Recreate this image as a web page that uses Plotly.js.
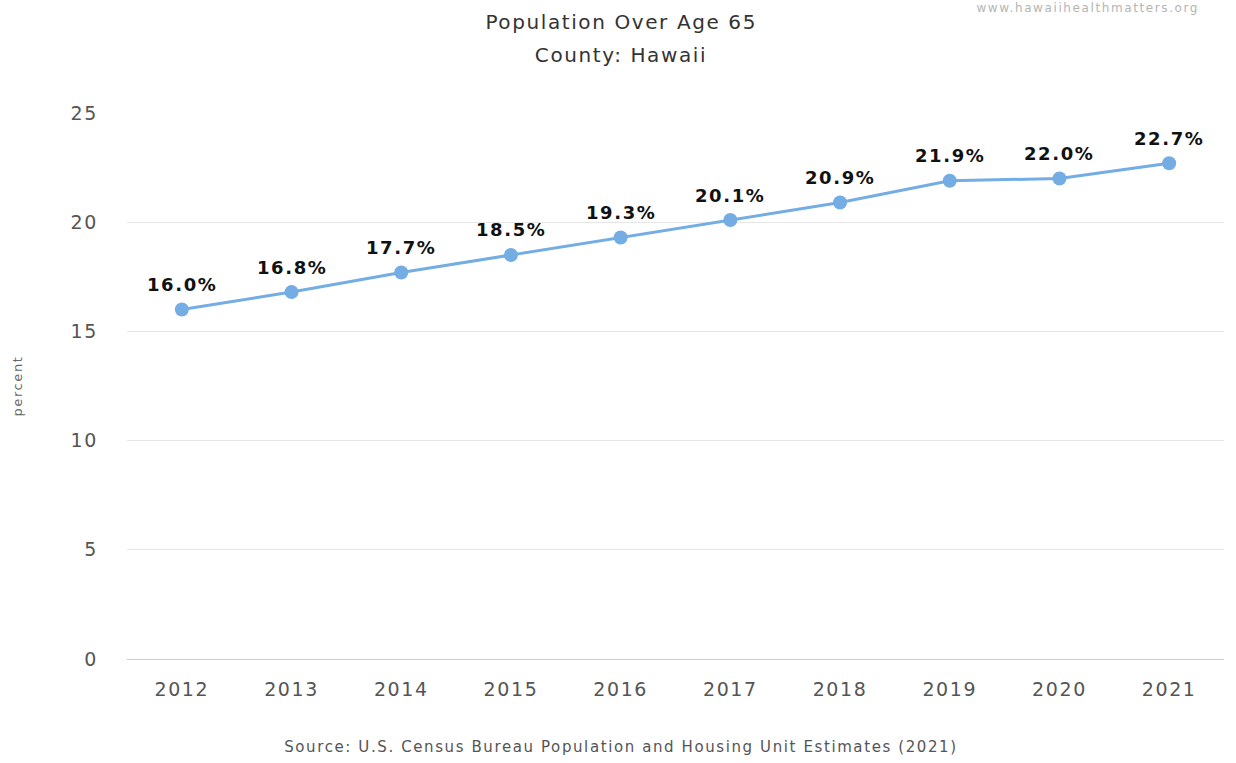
<!DOCTYPE html>
<html>
<head>
<meta charset="utf-8">
<script src="https://cdn.plot.ly/plotly-3.0.1.min.js"></script>
<style>
html,body{margin:0;padding:0;background:#fff}
#chart{width:1236px;height:763px}
#chart svg text{letter-spacing:1.6px}
</style>
</head>
<body>
<div id="chart"></div>
<script>
const years = ["2012","2013","2014","2015","2016","2017","2018","2019","2020","2021"];
const percent = [16.0, 16.8, 17.7, 18.5, 19.3, 20.1, 20.9, 21.9, 22.0, 22.7];
const yTicks = [0, 5, 10, 15, 20, 25];
const titleLines = ["Population Over Age 65", "County: Hawaii"];

const FONT = "DejaVu Sans, Verdana, sans-serif";

const trace = {
  x: years,
  y: percent,
  type: "scatter",
  mode: "lines+markers",
  line: {color: "#74ade4", width: 3},
  marker: {color: "#74ade4", size: 14},
  hoverinfo: "x+y",
  cliponaxis: false
};

// paper y from pixel row (plot area: top 113, bottom 659)
const py = p => (659 - p) / 546;

const dataLabels = years.map((yr, i) => ({
  x: i, y: percent[i], xref: "x", yref: "y",
  text: "<b>" + percent[i].toFixed(1) + "%</b>",
  showarrow: false, yanchor: "middle", xanchor: "center", yshift: 25,
  font: {family: FONT, size: 18, color: "#111"}
}));

const titleAnns = titleLines.map((t, i) => ({
  text: t, xref: "paper", yref: "paper", x: (621 - 127) / 1097, y: py(22 + i * 33),
  xanchor: "center", yanchor: "middle", showarrow: false,
  font: {family: FONT, size: 20, color: "#333"}
}));

const layout = {
  width: 1236, height: 763,
  margin: {l: 127, r: 12, t: 113, b: 104},
  paper_bgcolor: "#fff", plot_bgcolor: "#fff",
  showlegend: false,
  font: {family: FONT, color: "#333"},
  xaxis: {
    type: "category",
    range: [-0.5, 9.5],
    showgrid: false,
    showline: false,
    zeroline: false,
    ticks: "",
    tickfont: {family: FONT, size: 19, color: "#555"},
    ticklabelstandoff: 17
  },
  yaxis: {
    range: [0, 25],
    tickvals: yTicks,
    ticktext: yTicks.map(String),
    showgrid: true,
    gridcolor: "#e6e6e6",
    gridwidth: 1,
    zeroline: true,
    zerolinecolor: "#cccccc",
    zerolinewidth: 1,
    showline: false,
    ticks: "",
    tickfont: {family: FONT, size: 19, color: "#555"},
    ticklabelstandoff: 28,
    title: {text: "percent", font: {family: FONT, size: 13, color: "#666"}, standoff: 48}
  },
  annotations: [
    ...titleAnns,
    ...dataLabels,
    {
      text: "Source: U.S. Census Bureau Population and Housing Unit Estimates (2021)",
      xref: "paper", yref: "paper", x: (621 - 127) / 1097, y: py(747), xanchor: "center", yanchor: "middle",
      showarrow: false, font: {family: FONT, size: 15, color: "#555"}
    },
    {
      text: "www.hawaiihealthmatters.org",
      xref: "paper", yref: "paper", x: (1179 - 127) / 1097, y: py(8), xanchor: "right", yanchor: "middle",
      showarrow: false, font: {family: FONT, size: 12, color: "#b5b5b5"}
    }
  ]
};

Plotly.newPlot("chart", [trace], layout, {displayModeBar: false, staticPlot: true});
</script>
</body>
</html>
